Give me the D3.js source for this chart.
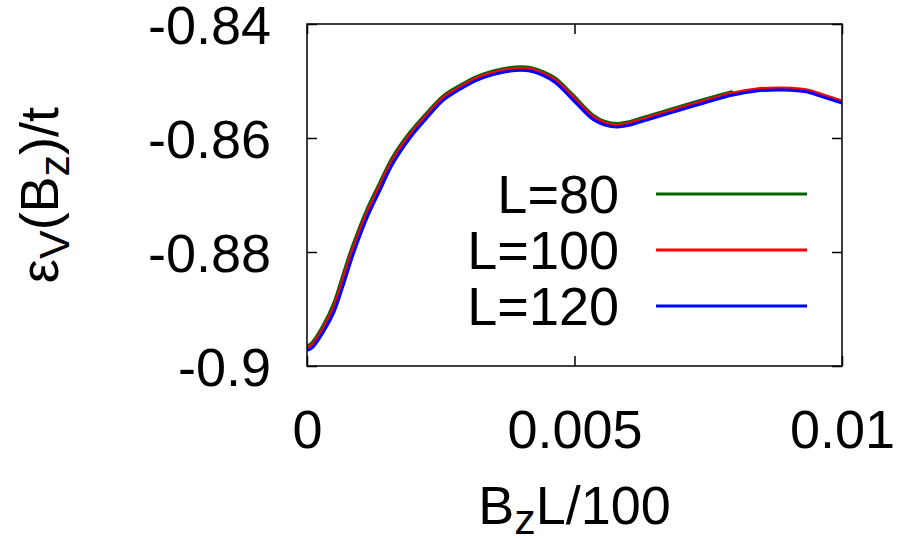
<!DOCTYPE html>
<html>
<head>
<meta charset="utf-8">
<script src="https://cdn.jsdelivr.net/npm/d3@7"></script>
<style>
  body { margin: 0; background: #fff; }
  svg { font-family: "Liberation Sans", Arial, Helvetica, sans-serif; }
</style>
</head>
<body>
<script>
// B_z L / 100 values (shared x grid)
const bz = [0, 0.0001, 0.0003, 0.0005, 0.00067, 0.00084, 0.00112, 0.00136, 0.0016, 0.00192,
            0.00224, 0.00254, 0.00286, 0.00318, 0.00348, 0.0038, 0.004, 0.00417, 0.0044, 0.00464,
            0.00497, 0.00535, 0.00557, 0.0058, 0.006, 0.00622, 0.00684, 0.00748, 0.00796, 0.0084,
            0.0089, 0.00935, 0.00965, 0.01];

// eps_V(B_z)/t for each system size
const epsL80 = [-0.89653, -0.89582, -0.89290, -0.88894, -0.88407, -0.87922, -0.87250, -0.86782, -0.86333, -0.85903,
                -0.85557, -0.85264, -0.85074, -0.84918, -0.84824, -0.84763, -0.84751, -0.84762, -0.84831, -0.84948,
                -0.85244, -0.85598, -0.85709, -0.85746, -0.85719, -0.85657, -0.85482, -0.85306, -0.85184];
const epsL100 = [-0.89684, -0.89623, -0.89342, -0.88965, -0.88491, -0.88000, -0.87316, -0.86842, -0.86386, -0.85947,
                 -0.85596, -0.85298, -0.85105, -0.84947, -0.84851, -0.84789, -0.84777, -0.84789, -0.84860, -0.84982,
                 -0.85281, -0.85632, -0.85737, -0.85772, -0.85746, -0.85684, -0.85509, -0.85333, -0.85211, -0.85140,
                 -0.85123, -0.85158, -0.85246, -0.85351];
const epsL120 = [-0.89725, -0.89678, -0.89411, -0.89060, -0.88603, -0.88104, -0.87404, -0.86922, -0.86456, -0.86005,
                 -0.85649, -0.85344, -0.85146, -0.84985, -0.84888, -0.84824, -0.84812, -0.84825, -0.84898, -0.85027,
                 -0.85330, -0.85677, -0.85774, -0.85807, -0.85782, -0.85721, -0.85546, -0.85369, -0.85247, -0.85175,
                 -0.85158, -0.85194, -0.85283, -0.85388];

const seriesNames = ["L=80", "L=100", "L=120"];
const seriesColors = ["#006400", "#ff0000", "#0000ff"];

const xTicks = [0, 0.005, 0.01];
const xTickLabels = ["0", "0.005", "0.01"];
const yTicks = [-0.84, -0.86, -0.88, -0.9];
const yTickLabels = ["-0.84", "-0.86", "-0.88", "-0.9"];

const width = 900, height = 540;
const margin = {top: 24, right: 58, bottom: 174, left: 307};
const w = width - margin.left - margin.right,
      h = height - margin.top - margin.bottom;
const fontSize = 54;

const svg = d3.select("body").append("svg")
    .attr("width", width)
    .attr("height", height);

const g = svg.append("g")
    .attr("transform", "translate(" + margin.left + "," + margin.top + ")");

const x = d3.scaleLinear().domain([0, 0.01]).range([0, w]);
const y = d3.scaleLinear().domain([-0.9, -0.84]).range([h, 0]);

// clip for the curves
svg.append("defs").append("clipPath").attr("id", "clip")
  .append("rect").attr("width", w).attr("height", h);

// curves: L=80 first, L=120 drawn last (on top)
const allSeries = [epsL80, epsL100, epsL120];
const line = d3.line()
    .x(d => x(d[0]))
    .y(d => y(d[1]))
    .curve(d3.curveCatmullRom.alpha(0.5));

const curves = g.append("g").attr("clip-path", "url(#clip)");
allSeries.forEach((vals, i) => {
  const pts = vals.map((v, j) => [bz[j], v]);
  curves.append("path")
      .datum(pts)
      .attr("fill", "none")
      .attr("stroke", seriesColors[i])
      .attr("stroke-width", 3)
      .attr("stroke-linejoin", "round")
      .attr("d", line);
});

// axes with inward ticks on all four sides
function styleAxis(sel) {
  sel.select(".domain").remove();
  sel.selectAll(".tick line").attr("stroke", "#000").attr("stroke-width", 1.5);
  sel.selectAll(".tick text").attr("fill", "#000").style("font-size", fontSize + "px");
}

g.append("g")
    .attr("transform", "translate(0," + h + ")")
    .call(d3.axisBottom(x).tickValues(xTicks)
      .tickFormat((d, i) => xTickLabels[i]).tickSizeInner(-10).tickSizeOuter(0).tickPadding(44))
    .call(styleAxis);

g.append("g")
    .call(d3.axisTop(x).tickValues(xTicks).tickFormat("").tickSizeInner(-10).tickSizeOuter(0))
    .call(styleAxis);

g.append("g")
    .call(d3.axisLeft(y).tickValues(yTicks)
      .tickFormat((d, i) => yTickLabels[i]).tickSizeInner(-10).tickSizeOuter(0).tickPadding(36))
    .call(styleAxis)
    .selectAll(".tick text").attr("dy", "0.36em");

g.append("g")
    .attr("transform", "translate(" + w + ",0)")
    .call(d3.axisRight(y).tickValues(yTicks).tickFormat("").tickSizeInner(-10).tickSizeOuter(0))
    .call(styleAxis);

// frame
g.append("rect")
    .attr("width", w).attr("height", h)
    .attr("fill", "none")
    .attr("stroke", "#000")
    .attr("stroke-width", 1.5);

// legend
const legend = g.append("g");
seriesNames.forEach((name, i) => {
  const ly = 170 + i * 56;
  legend.append("text")
      .attr("x", 312).attr("y", ly)
      .attr("dy", "0.36em")
      .attr("text-anchor", "end")
      .style("font-size", fontSize + "px")
      .text(name);
  legend.append("line")
      .attr("x1", 349).attr("x2", 500)
      .attr("y1", ly).attr("y2", ly)
      .attr("stroke", seriesColors[i])
      .attr("stroke-width", 3);
});

// x axis title: B_z L/100
const xt = svg.append("text")
    .attr("x", margin.left + w / 2).attr("y", 524)
    .attr("text-anchor", "middle")
    .style("font-size", fontSize + "px");
xt.append("tspan").text("B");
xt.append("tspan").attr("dy", 10).style("font-size", "43px").text("z");
xt.append("tspan").attr("dy", -10).text("L/100");

// y axis title: eps_V(B_z)/t
const yt = svg.append("text")
    .attr("transform", "translate(58,195) rotate(-90)")
    .attr("text-anchor", "middle")
    .style("font-size", fontSize + "px");
yt.append("tspan").text("\u03b5");
yt.append("tspan").attr("dy", 11).style("font-size", "43px").text("V");
yt.append("tspan").attr("dy", -11).text("(B");
yt.append("tspan").attr("dy", 11).style("font-size", "43px").text("z");
yt.append("tspan").attr("dy", -11).text(")/t");
</script>
</body>
</html>
